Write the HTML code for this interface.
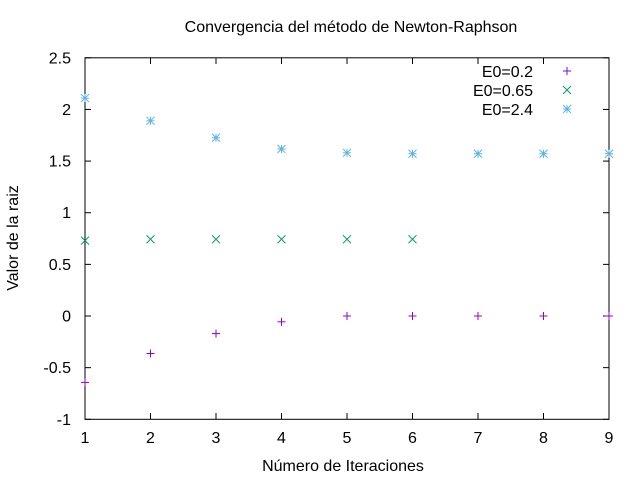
<!DOCTYPE html>
<html><head><meta charset="utf-8"><style>
body{margin:0;background:#fff}
svg text{font-family:"Liberation Sans",sans-serif;font-size:16px;fill:#000}
</style></head><body>
<svg id="chart" width="640" height="480" xmlns="http://www.w3.org/2000/svg">
<text x="351" y="32" text-anchor="middle">Convergencia del método de Newton-Raphson</text>
<text x="343" y="471" text-anchor="middle">Número de Iteraciones</text>
<text transform="translate(18,238) rotate(-90)" text-anchor="middle">Valor de la raiz</text>
<rect x="85" y="57.8" width="524" height="361.5" fill="none" stroke="#000" stroke-width="1"/>
<g id="axes"></g>
<g id="marks"></g>
<g id="legend"></g>
</svg>
<script>
const iterations=[1,2,3,4,5,6,7,8,9];
const seriesA=[-0.643,-0.363,-0.17,-0.056,0,0,0,0,0];
const seriesB=[0.73,0.743,0.743,0.743,0.743,0.743];
const seriesC=[2.11,1.89,1.726,1.617,1.58,1.571,1.571,1.571,1.571];
const xTicks=[1,2,3,4,5,6,7,8,9];
const yTicks=[-1,-0.5,0,0.5,1,1.5,2,2.5];
const names=["E0=0.2","E0=0.65","E0=2.4"];
const NS="http://www.w3.org/2000/svg";
const x=v=>85+(v-1)/8*524;
const y=v=>419.3-(v+1)/3.5*361.5;
function mk(tag,attrs,parent){const e=document.createElementNS(NS,tag);for(const k in attrs)e.setAttribute(k,attrs[k]);parent.appendChild(e);return e;}
const axes=document.getElementById('axes');
xTicks.forEach(t=>{
 const g=mk('g',{},axes);
 
 
 mk('line',{x1:x(t),x2:x(t),y1:419.3,y2:413,stroke:'#000'},g);
 mk('line',{x1:x(t),x2:x(t),y1:57.8,y2:64,stroke:'#000'},g);
 const tx=mk('text',{x:x(t),y:443,'text-anchor':'middle'},g);tx.textContent=t;
});
yTicks.forEach(t=>{
 const g=mk('g',{},axes);
 
 
 mk('line',{x1:85,x2:91,y1:y(t),y2:y(t),stroke:'#000'},g);
 mk('line',{x1:609,x2:603,y1:y(t),y2:y(t),stroke:'#000'},g);
 const tx=mk('text',{x:71,y:y(t)+5.5,'text-anchor':'end'},g);tx.textContent=t;
});
const cols=['#9400d3','#009e73','#56b4e9'];
function marker(type,cx,cy,parent){
 const c=cols[type];const s=4;
 const g=mk('g',{stroke:c,'stroke-width':1},parent);
 if(type===0||type===2){mk('line',{x1:cx-s,x2:cx+s,y1:cy,y2:cy},g);mk('line',{x1:cx,x2:cx,y1:cy-s,y2:cy+s},g);}
 if(type===1||type===2){mk('line',{x1:cx-s,x2:cx+s,y1:cy-s,y2:cy+s},g);mk('line',{x1:cx-s,x2:cx+s,y1:cy+s,y2:cy-s},g);}
 return g;
}
const marks=document.getElementById('marks');
[seriesA,seriesB,seriesC].forEach((s,i)=>{
 s.forEach((v,j)=>{
  const m=marker(i,x(iterations[j]),y(v),marks);
  
  
 });
});
const leg=document.getElementById('legend');
names.forEach((n,i)=>{
 const g=mk('g',{},leg);
 
 
 const t=mk('text',{x:533,y:77+i*19,'text-anchor':'end'},g);t.textContent=n;
 marker(i,567,71+i*19,g);
});
</script>
</body></html>
